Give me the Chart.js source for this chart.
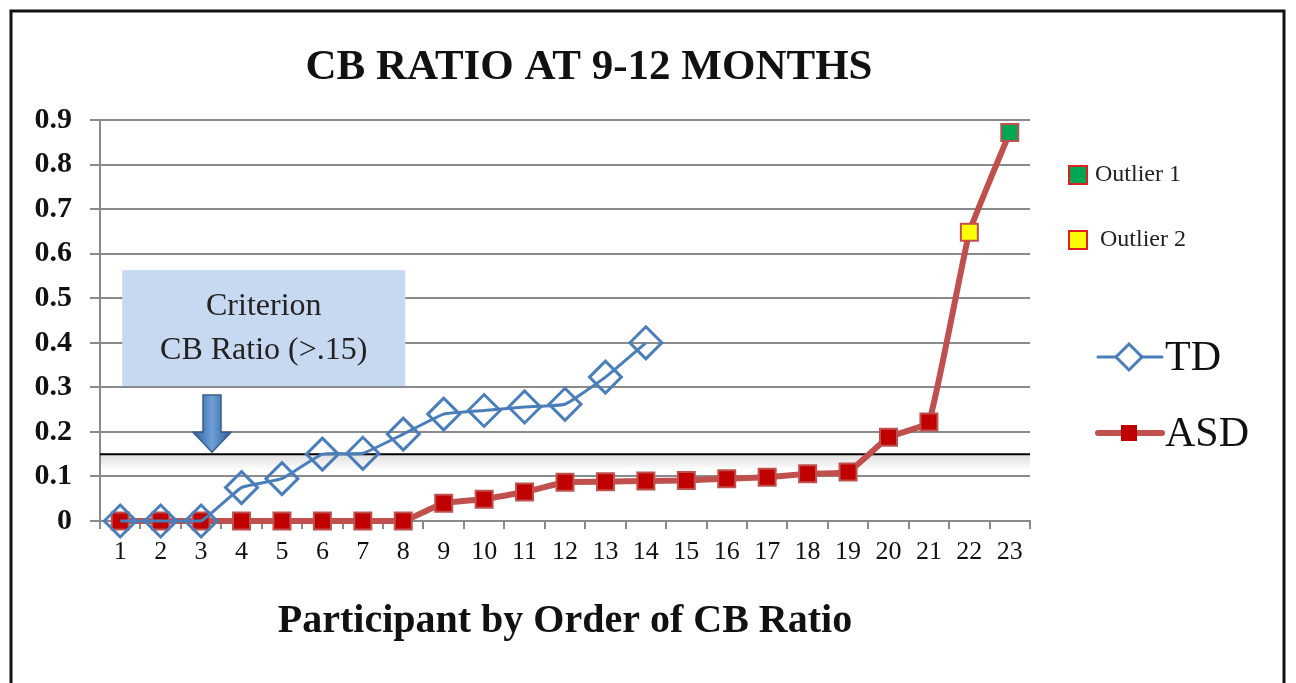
<!DOCTYPE html>
<html>
<head>
<meta charset="utf-8">
<title>CB Ratio at 9-12 months</title>
<script src="https://cdn.jsdelivr.net/npm/chart.js@4"></script>
<style>
  html, body { margin: 0; padding: 0; background: #fff; }
</style>
</head>
<body>
<canvas id="cbChart" width="1296" height="683"></canvas>
<script>
// data
const participants = ['1','2','3','4','5','6','7','8','9','10','11','12','13','14','15','16','17','18','19','20','21','22','23'];
const tdRatio = [0, 0, 0, 0.075, 0.095, 0.15, 0.152, 0.195, 0.24, 0.248, 0.256, 0.262, 0.323, 0.40,
                 null, null, null, null, null, null, null, null, null];
const asdRatio = [0, 0, 0, 0, 0, 0, 0, 0, 0.04, 0.049, 0.065, 0.087, 0.088, 0.09, 0.091, 0.095, 0.098, 0.106, 0.11, 0.188, 0.222, 0.648, 0.872];
const outlierNames = ['Outlier 1', 'Outlier 2'];
const outlierIndex = [22, 21];
const outlierColors = ['#00a651', '#ffff00'];
const criterionValue = 0.15;
const criterionText = ['Criterion', 'CB Ratio (>.15)'];

const serif = "'Liberation Serif', 'DejaVu Serif', serif";
const tdBlue = '#4a7ebb';
const asdRed = '#c0504d';
const asdMark = '#c00000';

let asdFill = asdRatio.map(() => asdMark);
outlierIndex.forEach((idx, i) => { asdFill[idx] = outlierColors[i]; });

// frame, criterion line, annotation box, arrow and legend
const decorations = {
    id: 'decorations',
    afterLayout(chart) {
        // the title sits a bit right of the plot centre in the original
        chart.titleBlock.left = 148;
        chart.titleBlock.right = 1030;
    },
    beforeDatasetsDraw(chart) {
        const ctx = chart.ctx;
        const area = chart.chartArea;
        const y = chart.scales.y.getPixelForValue(criterionValue);
        ctx.save();
        let grad = ctx.createLinearGradient(0, y, 0, y + 16);
        grad.addColorStop(0, 'rgba(0,0,0,0.13)');
        grad.addColorStop(1, 'rgba(0,0,0,0)');
        ctx.fillStyle = grad;
        ctx.fillRect(area.left, y, area.right - area.left, 16);
        ctx.strokeStyle = '#000';
        ctx.lineWidth = 2;
        ctx.beginPath();
        ctx.moveTo(area.left, y);
        ctx.lineTo(area.right, y);
        ctx.stroke();
        ctx.restore();
    },
    afterDraw(chart) {
        const ctx = chart.ctx;
        const xs = chart.scales.x, ys = chart.scales.y;
        const step = xs.getPixelForValue(1) - xs.getPixelForValue(0);
        ctx.save();

        // outer frame
        ctx.strokeStyle = '#111';
        ctx.lineWidth = 3;
        ctx.strokeRect(11, 11, 1273, 700);

        // criterion box
        const bx0 = xs.getPixelForValue(0) + 0.05 * step;
        const bx1 = xs.getPixelForValue(7) + 0.05 * step;
        const by0 = ys.getPixelForValue(0.563);
        const by1 = ys.getPixelForValue(0.303);
        ctx.fillStyle = '#c6d9f1';
        ctx.fillRect(bx0, by0, bx1 - bx0, by1 - by0);
        ctx.fillStyle = '#222';
        ctx.font = '32px ' + serif;
        ctx.textAlign = 'center';
        ctx.textBaseline = 'middle';
        const bcx = (bx0 + bx1) / 2;
        ctx.fillText(criterionText[0], bcx, by0 + 36);
        ctx.fillText(criterionText[1], bcx, by0 + 80);

        // down arrow
        const ax = xs.getPixelForValue(2) + 0.27 * step;
        const aTop = by1 + 9;
        const aTip = ys.getPixelForValue(criterionValue) - 2;
        const headTop = aTip - 20;
        let ag = ctx.createLinearGradient(ax - 19, 0, ax + 19, 0);
        ag.addColorStop(0, '#2c5d98');
        ag.addColorStop(0.5, '#6f9fd8');
        ag.addColorStop(1, '#2c5d98');
        ctx.fillStyle = ag;
        ctx.strokeStyle = '#385d8a';
        ctx.lineWidth = 1.5;
        ctx.beginPath();
        ctx.moveTo(ax - 9, aTop);
        ctx.lineTo(ax + 9, aTop);
        ctx.lineTo(ax + 9, headTop);
        ctx.lineTo(ax + 19, headTop);
        ctx.lineTo(ax, aTip);
        ctx.lineTo(ax - 19, headTop);
        ctx.lineTo(ax - 9, headTop);
        ctx.closePath();
        ctx.fill();
        ctx.stroke();

        // outlier legend
        ctx.textAlign = 'left';
        ctx.font = '24px ' + serif;
        const oy = [175, 240];
        for (let i = 0; i < outlierNames.length; i++) {
            ctx.fillStyle = outlierColors[i];
            ctx.fillRect(1069, oy[i] - 9, 18, 18);
            ctx.strokeStyle = '#e02020';
            ctx.lineWidth = 2;
            ctx.strokeRect(1069, oy[i] - 9, 18, 18);
            ctx.fillStyle = '#222';
            ctx.fillText(outlierNames[i], 1095 + i * 5, oy[i]);
        }

        // series legend
        const ds = chart.data.datasets;
        const ly = [357, 433];
        for (let i = 0; i < 2; i++) {
            ctx.strokeStyle = ds[i].borderColor;
            ctx.lineWidth = i === 0 ? 3 : 6;
            ctx.lineCap = 'round';
            ctx.beginPath();
            ctx.moveTo(1098, ly[i]);
            ctx.lineTo(1162, ly[i]);
            ctx.stroke();
            if (i === 0) {
                ctx.fillStyle = '#fff';
                ctx.beginPath();
                ctx.moveTo(1129, ly[i] - 13);
                ctx.lineTo(1142, ly[i]);
                ctx.lineTo(1129, ly[i] + 13);
                ctx.lineTo(1116, ly[i]);
                ctx.closePath();
                ctx.fill();
                ctx.lineWidth = 3;
                ctx.stroke();
            } else {
                ctx.fillStyle = asdMark;
                ctx.fillRect(1121, ly[i] - 8, 16, 16);
            }
            ctx.fillStyle = '#111';
            ctx.font = '42px ' + serif;
            ctx.fillText(ds[i].label, 1165, ly[i] + 2);
        }
        ctx.restore();
    }
};

new Chart(document.getElementById('cbChart'), {
    type: 'line',
    data: {
        labels: participants,
        datasets: [
            {
                label: 'TD',
                data: tdRatio,
                borderColor: tdBlue,
                borderWidth: 3,
                pointStyle: 'rectRot',
                pointRadius: 16,
                pointBorderWidth: 3,
                pointBorderColor: tdBlue,
                pointBackgroundColor: 'rgba(255,255,255,0)',
                tension: 0.12,
                clip: 25
            },
            {
                label: 'ASD',
                data: asdRatio,
                borderColor: asdRed,
                borderWidth: 6,
                pointStyle: 'rect',
                pointRadius: 12,
                pointBorderWidth: 2,
                pointBorderColor: asdRed,
                pointBackgroundColor: asdFill,
                tension: 0.1,
                clip: 25
            }
        ]
    },
    options: {
        responsive: false,
        animation: false,
        events: [],
        layout: { padding: { top: 10, left: 20, right: 266, bottom: 0 } },
        plugins: {
            legend: { display: false },
            tooltip: { enabled: false },
            title: {
                display: true,
                text: 'CB RATIO AT 9-12 MONTHS',
                color: '#111',
                font: { family: serif, size: 43, weight: 'bold', lineHeight: 1.2 },
                padding: { top: 32, bottom: 26.4 }
            }
        },
        scales: {
            x: {
                offset: true,
                grid: { offset: true, drawOnChartArea: false, color: '#8a8a8a', lineWidth: 2, tickLength: 8 },
                border: { color: '#8a8a8a', width: 2 },
                ticks: { color: '#111', font: { family: serif, size: 26 }, padding: 8, autoSkip: false, maxRotation: 0 },
                title: {
                    display: true,
                    text: 'Participant by Order of CB Ratio',
                    color: '#111',
                    font: { family: serif, size: 40, weight: 'bold', lineHeight: 1.2 },
                    padding: { top: 0, bottom: 37 }
                },
                afterFit(scale) { scale.height = 162; }
            },
            y: {
                min: 0,
                max: 0.9,
                grid: { color: '#8a8a8a', lineWidth: 2, tickLength: 10 },
                border: { color: '#8a8a8a', width: 2 },
                ticks: {
                    stepSize: 0.1,
                    color: '#111',
                    padding: 18,
                    font: { family: serif, size: 30, weight: 'bold' },
                    callback: v => (Math.abs(v) < 1e-9 ? '0' : v.toFixed(1))
                },
                afterFit(scale) { scale.width = 80; }
            }
        }
    },
    plugins: [decorations]
});
</script>
</body>
</html>
